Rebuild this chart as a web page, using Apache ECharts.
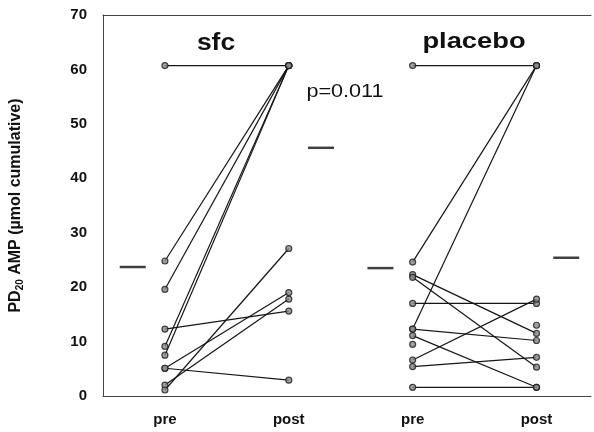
<!DOCTYPE html>
<html>
<head>
<meta charset="utf-8">
<script src="https://cdn.jsdelivr.net/npm/echarts@6/dist/echarts.min.js"></script>
<style>html,body{margin:0;padding:0;background:#fff}#c{width:594px;height:432px}</style>
</head>
<body>
<div id="c"></div>
<script>
// ---- data ----
const groups = ['sfc', 'placebo'];
const xTickLabels = ['pre', 'post', 'pre', 'post'];
const yTicks = [0, 10, 20, 30, 40, 50, 60, 70];
const sfcPre  = [60.7, 24.8, 19.6, 12.3, 9.1, 7.5, 5.1, 5.1, 2.0, 1.1];
const sfcPost = [60.7, 60.7, 60.7, 15.6, 60.7, 60.7, 19.0, 2.9, 17.8, 27.1];
const placeboPre  = [60.7, 24.6, 22.3, 21.8, 17.0, 12.3, 12.3, 11.1, 6.6, 5.4, 1.6, 9.5];
const placeboPost = [60.7, 60.7, 11.5, 5.3, 17.0, 60.7, 10.2, 1.6, 17.8, 7.1, 1.6, 13.0];
const placeboNoLink = [11]; // subject whose connecting line is not visible
const meanValues = [23.7, 45.6, 23.5, 25.4]; // sfc pre, sfc post, placebo pre, placebo post
const pValueText = 'p=0.011';

// ---- build ----
const xPos = [1, 2, 3, 4];
const meanOffset = [-0.26, 0.26, -0.26, 0.24];
const series = [];
const pts = [];
function addGroup(pre, post, xa, xb, noLink) {
  for (let i = 0; i < pre.length; i++) {
    pts.push([xa, pre[i]]);
    pts.push([xb, post[i]]);
    if (noLink && noLink.indexOf(i) >= 0) continue;
    series.push({
      type: 'line', data: [[xa, pre[i]], [xb, post[i]]],
      showSymbol: false, silent: true, z: 2,
      lineStyle: { color: '#161616', width: 1.2 }
    });
  }
}
addGroup(sfcPre, sfcPost, xPos[0], xPos[1]);
addGroup(placeboPre, placeboPost, xPos[2], xPos[3], placeboNoLink);
series.push({
  type: 'scatter', data: pts, symbol: 'circle', symbolSize: 6, z: 3,
  itemStyle: { color: '#8a8a8a', borderColor: '#1a1a1a', borderWidth: 1.2 }
});
series.push({
  type: 'scatter', data: meanValues.map((v, i) => [xPos[i] + meanOffset[i], v]),
  symbol: 'rect', symbolSize: [26, 2.5], z: 3,
  itemStyle: { color: '#111' }
});

const chart = echarts.init(document.getElementById('c'), null, { renderer: 'canvas' });
const labelFor = v => {
  const r = Math.round(v);
  if (Math.abs(v - r) < 1e-6 && r >= 1 && r <= 4) return xTickLabels[r - 1];
  return '';
};
const FF = '"Liberation Sans", Arial, sans-serif';
chart.setOption({
  animation: false,
  backgroundColor: '#fff',
  grid: { left: 98, right: 0, top: 15, bottom: 36 },
  xAxis: [{
    type: 'value', min: 0.5, max: 4.44, interval: 0.5,
    splitLine: { show: false }, axisTick: { show: false },
    axisLine: { lineStyle: { color: '#444', width: 1 } },
    axisLabel: { formatter: labelFor, margin: 16, color: '#111', fontWeight: 'bold', fontSize: 15, fontFamily: FF }
  }, {
    type: 'value', position: 'top', min: 0.5, max: 4.44, interval: 0.5,
    splitLine: { show: false }, axisTick: { show: false }, axisLabel: { show: false },
    axisLine: { lineStyle: { color: '#444', width: 1 } }
  }],
  yAxis: {
    type: 'value', min: yTicks[0], max: yTicks[yTicks.length - 1], interval: 10,
    splitLine: { show: false }, axisTick: { show: false },
    axisLine: { lineStyle: { color: '#444', width: 1 } },
    axisLabel: { margin: 16, color: '#111', fontWeight: 'bold', fontSize: 15, fontFamily: FF },
    name: '{a|PD}{s|20}{a| AMP (µmol cumulative)}',
    nameLocation: 'middle', nameGap: 78,
    nameTextStyle: {
      rich: {
        a: { fontSize: 16, fontWeight: 'bold', color: '#111', fontFamily: FF },
        s: { fontSize: 10, fontWeight: 'bold', color: '#111', fontFamily: FF, verticalAlign: 'bottom', padding: [8, 0, 0, 0] }
      }
    }
  },
  graphic: [
    { type: 'text', x: 216, y: 44, scaleX: 1.15, style: { text: groups[0], font: 'bold 23px ' + FF, fill: '#111', textAlign: 'center', textVerticalAlign: 'middle' } },
    { type: 'text', x: 474, y: 42, scaleX: 1.24, style: { text: groups[1], font: 'bold 22px ' + FF, fill: '#111', textAlign: 'center', textVerticalAlign: 'middle' } },
    { type: 'text', x: 345, y: 92, scaleX: 1.2, style: { text: pValueText, font: '18px ' + FF, fill: '#111', textAlign: 'center', textVerticalAlign: 'middle' } }
  ],
  series: series
});
</script>
</body>
</html>
